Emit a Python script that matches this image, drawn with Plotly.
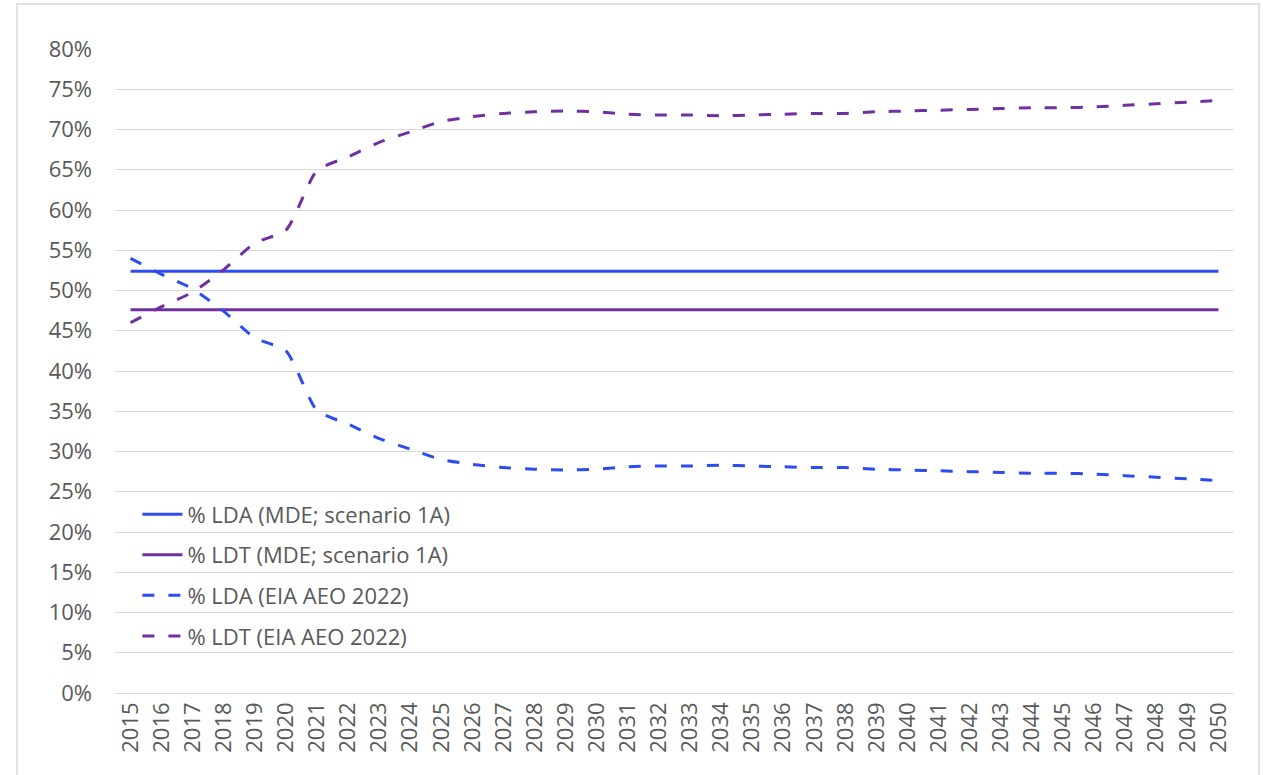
import plotly.graph_objects as go

years = [str(y) for y in range(2015, 2051)]

# MDE scenario 1A shares (constant over the horizon)
lda_mde = [0.524] * len(years)
ldt_mde = [0.476] * len(years)

# EIA AEO 2022 light-duty shares, %
lda_eia = [54.0, 52.0, 50.2, 47.4, 44.1, 42.5, 35.1, 33.4, 31.6, 30.3,
           29.0, 28.4, 28.0, 27.8, 27.7, 27.8, 28.1, 28.2, 28.2, 28.3,
           28.2, 28.1, 28.0, 28.0, 27.8, 27.7, 27.6, 27.5, 27.4, 27.3,
           27.3, 27.2, 27.0, 26.8, 26.6, 26.4]
ldt_eia = [46.0, 48.0, 49.8, 52.6, 55.9, 57.5, 64.9, 66.6, 68.4, 69.7,
           71.0, 71.6, 72.0, 72.2, 72.3, 72.2, 71.9, 71.8, 71.8, 71.7,
           71.8, 71.9, 72.0, 72.0, 72.2, 72.3, 72.4, 72.5, 72.6, 72.7,
           72.7, 72.8, 73.0, 73.2, 73.4, 73.6]

BLUE = "#2B4CF2"
PURPLE = "#7030A0"
GREY_TXT = "#595959"
GRID = "#D9D9D9"
FONT = "Open Sans"
FS = 22

fig = go.Figure()

fig.add_trace(go.Scatter(x=years, y=lda_mde, mode="lines",
                         name="% LDA (MDE; scenario 1A)", legendgroup="a",
                         line=dict(color=BLUE, width=3)))
fig.add_trace(go.Scatter(x=years, y=ldt_mde, mode="lines",
                         name="% LDT (MDE; scenario 1A)", legendgroup="b",
                         line=dict(color=PURPLE, width=3)))
fig.add_trace(go.Scatter(x=years, y=[v / 100 for v in lda_eia], mode="lines",
                         name="% LDA (EIA AEO 2022)", legendgroup="c",
                         line=dict(color=BLUE, width=3, dash="12px,14px",
                                   shape="spline", smoothing=0.6)))
fig.add_trace(go.Scatter(x=years, y=[v / 100 for v in ldt_eia], mode="lines",
                         name="% LDT (EIA AEO 2022)", legendgroup="d",
                         line=dict(color=PURPLE, width=3, dash="12px,14px",
                                   shape="spline", smoothing=0.6)))

fig.update_layout(
    width=1263, height=775,
    margin=dict(l=115, r=29, t=49, b=82),
    paper_bgcolor="white", plot_bgcolor="white",
    font=dict(family=FONT, size=FS, color=GREY_TXT),
    showlegend=True,
    legend=dict(x=0.020, y=0.31, xanchor="left", yanchor="top",
                bgcolor="rgba(0,0,0,0)", traceorder="grouped",
                tracegroupgap=9, itemwidth=40,
                font=dict(family=FONT, size=FS, color=GREY_TXT)),
    xaxis=dict(type="category", range=[-0.5, len(years) - 0.5],
               tickangle=-90, showgrid=False, showline=False,
               ticks="", ticklabelstandoff=4,
               tickfont=dict(size=FS, color=GREY_TXT)),
    yaxis=dict(range=[0, 0.8], dtick=0.05, tickformat=".0%",
               showgrid=True, gridcolor=GRID, gridwidth=1,
               zeroline=True, zerolinecolor=GRID, zerolinewidth=1,
               ticks="", ticklabelstandoff=22,
               tickfont=dict(size=FS, color=GREY_TXT)),
    shapes=[dict(type="rect", xref="paper", yref="paper",
                 x0=-98 / 1119, x1=1.0 + 25 / 1119, y0=-0.2, y1=1.0 + 45 / 644,
                 line=dict(color=GRID, width=1.5), layer="below")],
)

fig.write_html("out.html")
